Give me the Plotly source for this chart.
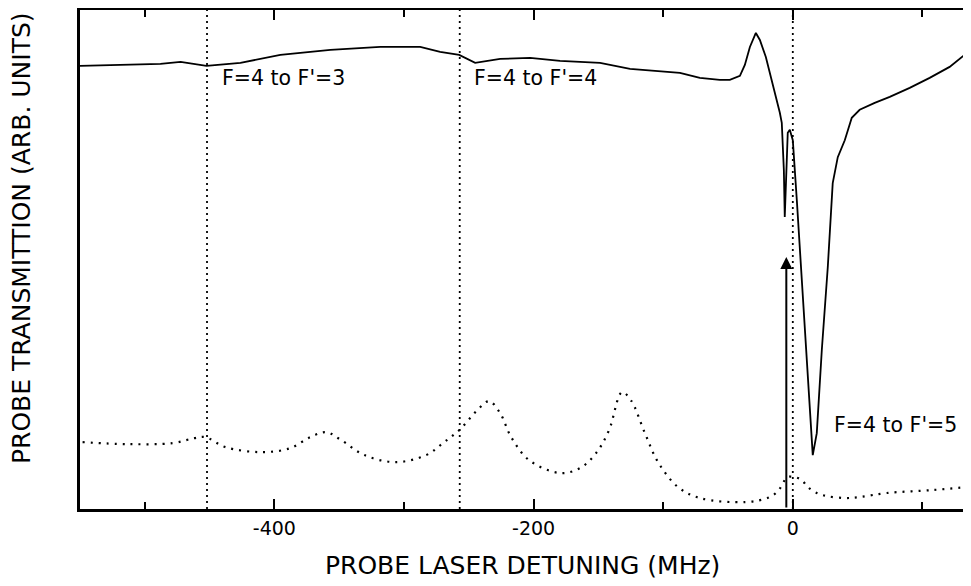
import plotly.graph_objects as go

# Solid trace: probe transmission
trans_x = [-550, -518.7, -487.9, -472.4, -452.4, -426.2, -395.4, -356.8, -318.3, -287.5,
           -272.1, -257.4, -245.1, -225.8, -202.7, -179.6, -148.7, -125.6, -87.1, -71.7,
           -56.3, -48.6, -40.8, -37.0, -33.1, -28.5, -25.4, -20.8, -17.7, -13.9,
           -10.0, -8.5, -6.9, -6.2, -3.9, -2.3, 0, 3.1, 7.7, 11.6,
           15.4, 18.5, 22.4, 27.0, 30.8, 34.7, 40.1, 45.5, 51.6, 63.2,
           74.8, 90.2, 105.6, 121.0, 137.2]
trans_y = [88.8, 89.0, 89.2, 89.6, 88.8, 89.4, 91.0, 92.0, 92.6, 92.6,
           91.6, 91.0, 89.4, 90.2, 90.4, 89.8, 89.4, 88.2, 87.4, 86.4,
           86.0, 86.0, 86.8, 89.0, 92.6, 95.4, 94.0, 90.6, 87.4, 84.0,
           79.4, 77.4, 67.9, 58.5, 75.4, 76.0, 73.9, 61.9, 41.9, 25.3,
           10.8, 15.2, 31.9, 48.5, 65.3, 70.5, 73.9, 78.4, 80.0, 81.4,
           82.6, 84.4, 86.4, 88.6, 92.0]

# Dotted trace: reference saturated absorption spectrum
ref_x = [-548, -513.3, -478.6, -461.7, -453.2, -437.8, -410.0, -387.7, -372.3, -359.9,
         -348.4, -330.6, -306.7, -282.9, -269.0, -256.6, -243.5, -234.3, -225.8, -217.3,
         -203.5, -179.6, -164.2, -151.8, -141.8, -131.8, -124.9, -114.1, -104.0, -88.6,
         -71.7, -36.2, -17.7, -10.8, -7.7, -3.9, 1.5, 6.9, 11.6, 18.5,
         26.2, 40.1, 51.6, 72.4, 107.9, 134.1]
ref_y = [13.4, 13.0, 13.2, 14.2, 14.4, 12.4, 11.4, 12.2, 14.4, 15.4,
         13.8, 10.8, 9.4, 10.8, 13.4, 16.0, 19.8, 21.6, 19.2, 14.4,
         9.8, 7.2, 8.2, 11.2, 15.8, 23.4, 21.8, 15.2, 9.4, 4.4,
         2.2, 1.4, 2.4, 3.8, 5.2, 6.4, 6.4, 5.8, 4.4, 3.2,
         2.6, 2.2, 2.4, 3.2, 3.8, 4.4]

# Hyperfine transition markers
marker_x = [-452, -257, 0]
label_text = ["F=4 to F'=3", "F=4 to F'=4", "F=4 to F'=5"]
label_x = [-441.6, -247.4, 30]
label_y = [86.4, 86.4, 16.8]

# Pump arrow
arrow_x = -5
arrow_y0 = 0
arrow_y1 = 50.5

tick_vals = [-400, -200, 0]
tick_text = ["-400", "-200", "0"]

FONT = "DejaVu Sans, Arial, sans-serif"

fig = go.Figure()
fig.add_trace(go.Scatter(x=trans_x, y=trans_y, mode="lines",
                         line=dict(color="black", width=1.8), showlegend=False))
fig.add_trace(go.Scatter(x=ref_x, y=ref_y, mode="lines", line_shape="spline",
                         line=dict(color="black", width=2.2, dash="2px,6px"), showlegend=False))

for mx in marker_x:
    fig.add_shape(type="line", x0=mx, x1=mx, y0=0, y1=1, xref="x", yref="paper",
                  line=dict(color="black", width=1.8, dash="2px,4px"))

for t, lx, ly in zip(label_text, label_x, label_y):
    fig.add_annotation(x=lx, y=ly, text=t, showarrow=False, xanchor="left", yanchor="middle",
                       font=dict(family=FONT, size=20.5, color="black"))

fig.add_annotation(x=arrow_x, y=arrow_y1, ax=arrow_x, ay=arrow_y0, xref="x", yref="y",
                   axref="x", ayref="y", text="", showarrow=True, arrowhead=2,
                   arrowsize=1.2, arrowwidth=2, arrowcolor="black")

fig.add_annotation(x=-0.0662, y=0.543, xref="paper", yref="paper",
                   text="PROBE TRANSMITTION (ARB. UNITS)", textangle=-90, showarrow=False,
                   xanchor="center", yanchor="middle",
                   font=dict(family=FONT, size=25, color="black"))
fig.add_annotation(x=0.497, y=-0.114, xref="paper", yref="paper",
                   text="PROBE LASER DETUNING (MHz)", showarrow=False,
                   xanchor="center", yanchor="middle",
                   font=dict(family=FONT, size=25, color="black"))

fig.update_layout(
    width=963, height=578,
    margin=dict(l=72, r=0, t=2, b=77),
    plot_bgcolor="white", paper_bgcolor="white",
    showlegend=False,
)
fig.update_xaxes(range=[-550, 137.5], showgrid=False, zeroline=False,
                 showline=True, linecolor="black", linewidth=3, mirror="ticks",
                 ticks="inside", ticklen=10, tickwidth=2, tickcolor="black",
                 tickvals=tick_vals, ticktext=tick_text,
                 tickfont=dict(family=FONT, size=19, color="black"),
                 minor=dict(tickvals=[-500, -300, -100, 100], ticks="inside",
                            ticklen=7, tickwidth=2, tickcolor="black"))
fig.update_yaxes(range=[0, 100], showgrid=False, zeroline=False,
                 showline=True, linecolor="black", linewidth=3,
                 showticklabels=False, ticks="")

fig.write_html("out.html")
